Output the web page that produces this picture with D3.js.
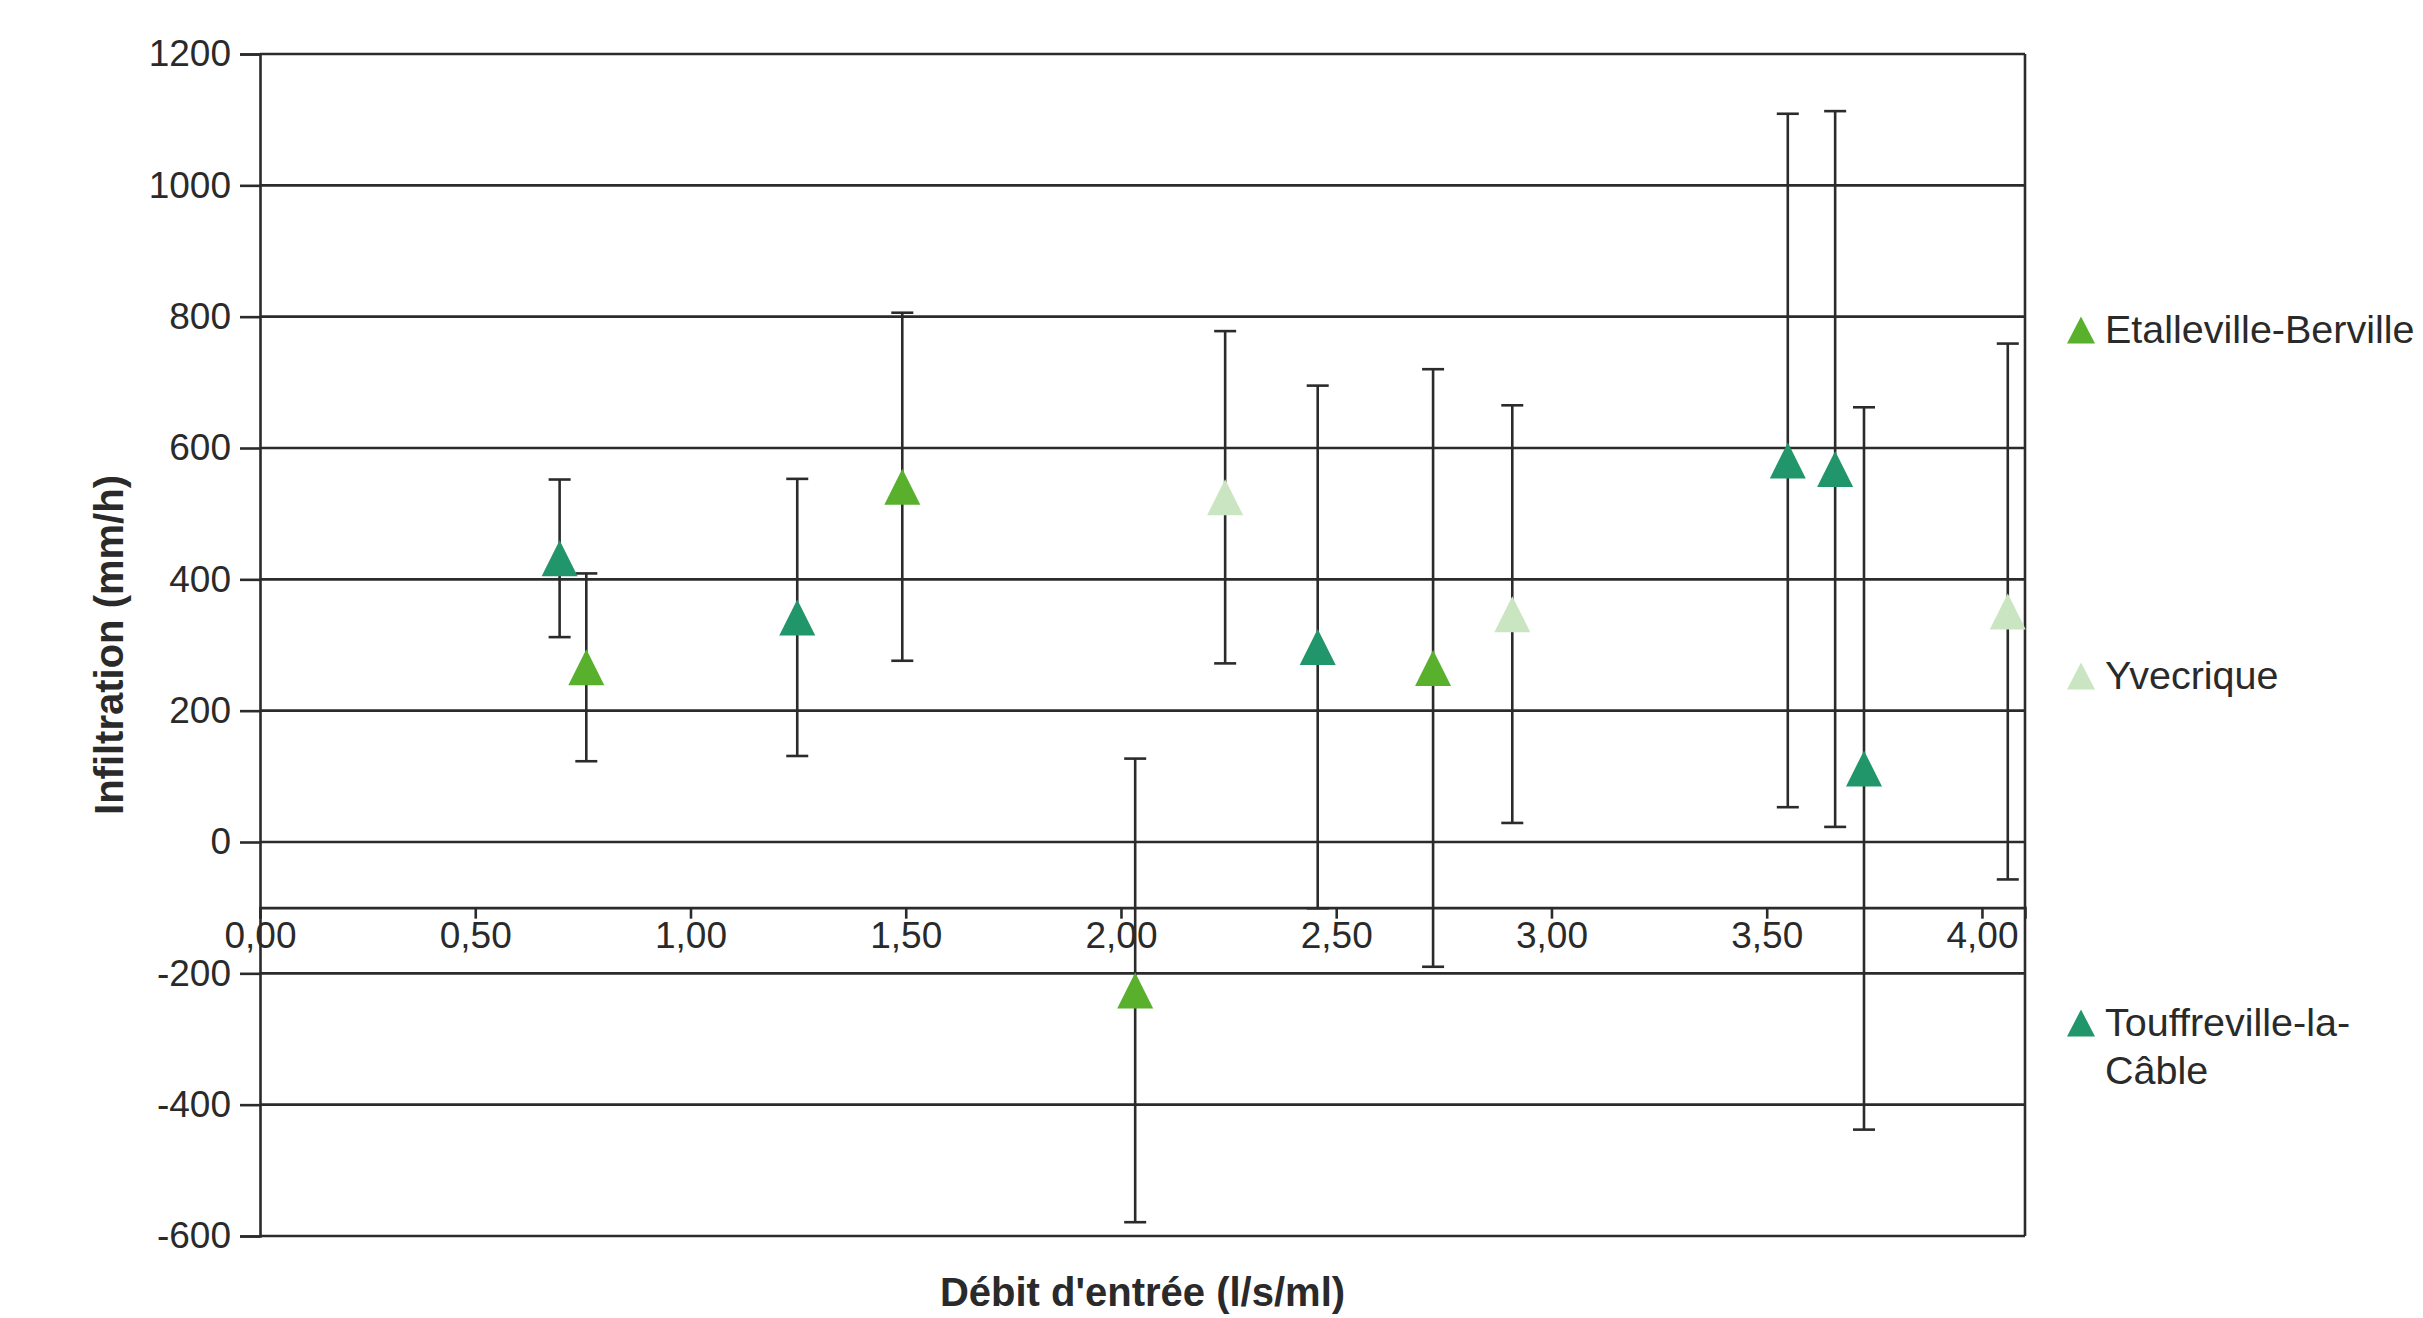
<!DOCTYPE html>
<html>
<head>
<meta charset="utf-8">
<script src="https://cdn.jsdelivr.net/npm/d3@7"></script>
<style>
  html, body { margin: 0; padding: 0; background: #ffffff; }
  svg { display: block; }
  text { font-family: "Liberation Sans", Arial, Helvetica, sans-serif; }
</style>
</head>
<body>
<svg id="chart" width="2423" height="1318"></svg>
<script>
// ---------- data ----------
const seriesNames = ["Etalleville-Berville", "Yvecrique", "Touffreville-la-Câble"];
const seriesColors = ["#58b02c", "#c9e5c2", "#21966a"];

const etallevilleX   = [0.758, 1.492, 2.033, 2.725];
const etallevilleY   = [266, 541, -226, 265];
const etallevilleErr = [143, 265, 353, 455];

const yvecriqueX   = [2.242, 2.909, 4.06];
const yvecriqueY   = [525, 347, 351];
const yvecriqueErr = [253, 318, 408];

const touffrevilleX   = [0.696, 1.248, 2.457, 3.549, 3.659, 3.726];
const touffrevilleY   = [432, 342, 297, 581, 568, 112];
const touffrevilleErr = [120, 211, 398, 528, 545, 550];

const xTicks = [0, 0.5, 1, 1.5, 2, 2.5, 3, 3.5, 4];
const yTicks = [-600, -400, -200, 0, 200, 400, 600, 800, 1000, 1200];
const xDomain = [0, 4.1];
const yDomain = [-600, 1200];
const xAxisCrossing = -100;

const xTitle = "Débit d'entrée (l/s/ml)";
const yTitle = "Infiltration (mm/h)";

// ---------- layout ----------
const plot = { left: 260, right: 2025, top: 54, bottom: 1236 };
const svg = d3.select("#chart");

const x = d3.scaleLinear().domain(xDomain).range([plot.left, plot.right]);
const y = d3.scaleLinear().domain(yDomain).range([plot.bottom, plot.top]);

const lineColor = "#2b2b2b";
const textColor = "#2a2a2a";

// gridlines
svg.append("g")
  .selectAll("line")
  .data(yTicks)
  .join("line")
  .attr("x1", plot.left).attr("x2", plot.right)
  .attr("y1", d => y(d)).attr("y2", d => y(d))
  .attr("stroke", lineColor).attr("stroke-width", 2.6);

// right border
svg.append("line")
  .attr("x1", plot.right).attr("x2", plot.right)
  .attr("y1", plot.top).attr("y2", plot.bottom)
  .attr("stroke", lineColor).attr("stroke-width", 2.6);

// y axis
const yAxis = svg.append("g")
  .attr("transform", `translate(${plot.left},0)`)
  .call(d3.axisLeft(y).tickValues(yTicks).tickSize(20).tickPadding(9).tickFormat(d => String(d)));
yAxis.select(".domain").attr("stroke", lineColor).attr("stroke-width", 2.6);
yAxis.selectAll(".tick line").attr("stroke", lineColor).attr("stroke-width", 2.6);
yAxis.selectAll(".tick text")
  .attr("fill", textColor)
  .style("font-size", "37px")
  .style("font-family", "'Liberation Sans', Arial, sans-serif");

// x axis (crossing at -100)
const xAxis = svg.append("g")
  .attr("transform", `translate(0,${y(xAxisCrossing)})`)
  .call(d3.axisBottom(x).tickValues(xTicks).tickSize(11).tickPadding(3)
    .tickFormat(d => d.toFixed(2).replace(".", ",")));
xAxis.select(".domain").attr("stroke", lineColor).attr("stroke-width", 2.6);
xAxis.selectAll(".tick line").attr("stroke", lineColor).attr("stroke-width", 2.6);
xAxis.selectAll(".tick text")
  .attr("fill", textColor)
  .style("font-size", "37px")
  .style("font-family", "'Liberation Sans', Arial, sans-serif");

// series
const series = [
  { name: seriesNames[0], color: seriesColors[0], xs: etallevilleX, ys: etallevilleY, es: etallevilleErr },
  { name: seriesNames[1], color: seriesColors[1], xs: yvecriqueX, ys: yvecriqueY, es: yvecriqueErr },
  { name: seriesNames[2], color: seriesColors[2], xs: touffrevilleX, ys: touffrevilleY, es: touffrevilleErr }
];

const points = [];
series.forEach(s => s.xs.forEach((xv, i) => points.push({ x: xv, y: s.ys[i], e: s.es[i], color: s.color })));

const capHalf = 11;
const errG = svg.append("g").attr("stroke", lineColor).attr("stroke-width", 2.6);
const eb = errG.selectAll("g").data(points).join("g");
eb.append("line")
  .attr("x1", d => x(d.x)).attr("x2", d => x(d.x))
  .attr("y1", d => y(d.y + d.e)).attr("y2", d => y(d.y - d.e));
eb.append("line")
  .attr("x1", d => x(d.x) - capHalf).attr("x2", d => x(d.x) + capHalf)
  .attr("y1", d => y(d.y + d.e)).attr("y2", d => y(d.y + d.e));
eb.append("line")
  .attr("x1", d => x(d.x) - capHalf).attr("x2", d => x(d.x) + capHalf)
  .attr("y1", d => y(d.y - d.e)).attr("y2", d => y(d.y - d.e));

function tri(cx, cy, w, h) {
  return `M${cx},${cy - h / 2}L${cx + w / 2},${cy + h / 2}L${cx - w / 2},${cy + h / 2}Z`;
}

svg.append("g").selectAll("path")
  .data(points)
  .join("path")
  .attr("d", d => tri(x(d.x), y(d.y), 36, 36))
  .attr("fill", d => d.color);

// axis titles
svg.append("text")
  .attr("x", (plot.left + plot.right) / 2)
  .attr("y", 1306)
  .attr("text-anchor", "middle")
  .attr("fill", textColor)
  .style("font-size", "40px")
  .style("font-weight", "bold")
  .text(xTitle);

svg.append("text")
  .attr("transform", `translate(123,${(plot.top + plot.bottom) / 2}) rotate(-90)`)
  .attr("text-anchor", "middle")
  .attr("fill", textColor)
  .style("font-size", "40px")
  .style("font-weight", "bold")
  .text(yTitle);

// legend
const legendY = [330, 676, 1023];
const legendLines = [["Etalleville-Berville"], ["Yvecrique"], ["Touffreville-la-", "Câble"]];
const lg = svg.append("g").selectAll("g")
  .data(series)
  .join("g")
  .attr("transform", (d, i) => `translate(2081,${legendY[i]})`);
lg.append("path")
  .attr("d", tri(0, 0, 28, 27))
  .attr("fill", d => d.color);
lg.append("text")
  .attr("x", 24)
  .attr("y", 13)
  .attr("fill", textColor)
  .style("font-size", "39.5px")
  .selectAll("tspan")
  .data((d, i) => legendLines[i])
  .join("tspan")
  .attr("x", 24)
  .attr("dy", (d, j) => j === 0 ? 0 : 48)
  .text(d => d);
</script>
</body>
</html>
